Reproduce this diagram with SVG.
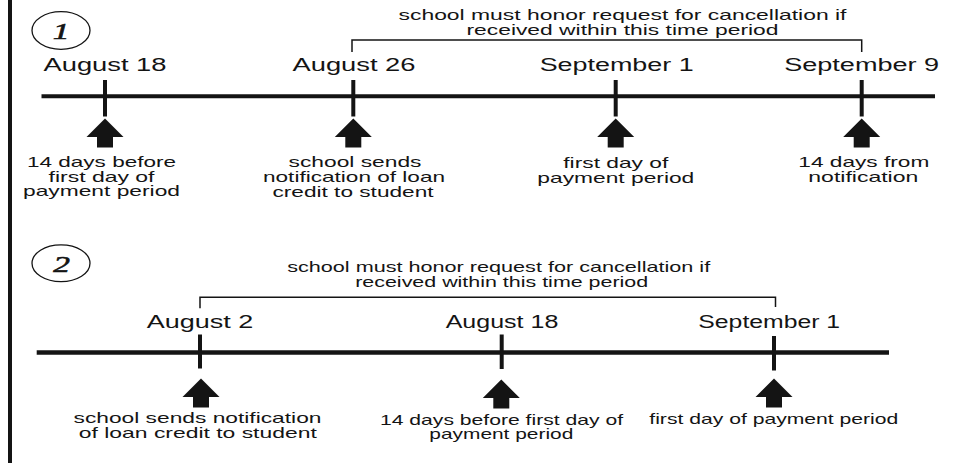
<svg xmlns="http://www.w3.org/2000/svg" xmlns:xlink="http://www.w3.org/1999/xlink" width="967" height="463" viewBox="0 0 967 463">
<style>
text{font-family:"Liberation Sans",Arial,Helvetica,sans-serif;fill:#141414;text-anchor:middle}
.l{font-size:14.5px}
.d{font-size:18px}
.n{font-family:"Liberation Serif","Times New Roman",serif;font-style:italic;font-size:23px;stroke:#141414;stroke-width:0.6}
.axis{stroke:#141414;stroke-width:4;fill:none}
.tick{stroke:#141414;stroke-width:4}
.br{fill:none;stroke:#141414;stroke-width:1.5}
.ell{fill:none;stroke:#141414;stroke-width:1.3}
.arr{fill:#141414}
</style>
<defs>
<path id="arrow" d="M0,0 L18.5,18.5 L8,18.5 L8,29 L-8,29 L-8,18.5 L-18.5,18.5 Z"/>
</defs>
<rect x="8" y="0" width="4" height="463" fill="#141414"/>

<!-- Timeline 1 -->
<g id="timeline1">
<ellipse class="ell" cx="61" cy="30.5" rx="29" ry="18.8"/>
<text class="n" transform="translate(61,39.3) scale(1.45,1)">1</text>
<line class="axis" x1="41.5" y1="96.3" x2="935" y2="96.3"/>
</g>
<g id="t1-aug18">
<text class="d" x="105" y="71" textLength="123" lengthAdjust="spacingAndGlyphs">August 18</text>
<line class="tick" x1="105" y1="80" x2="105" y2="116.5"/>
<use href="#arrow" class="arr" transform="translate(105,118.5)"/>
<text class="l" x="101.5" y="166.5" textLength="149" lengthAdjust="spacingAndGlyphs">14 days before</text>
<text class="l" x="101.5" y="181.5" textLength="106" lengthAdjust="spacingAndGlyphs">first day of</text>
<text class="l" x="101.5" y="196" textLength="157" lengthAdjust="spacingAndGlyphs">payment period</text>
</g>
<g id="t1-aug26">
<text class="d" x="354" y="71" textLength="123" lengthAdjust="spacingAndGlyphs">August 26</text>
<line class="tick" x1="353.3" y1="80" x2="353.3" y2="116.5"/>
<use href="#arrow" class="arr" transform="translate(353.3,118.5)"/>
<text class="l" x="355" y="166.7" textLength="133" lengthAdjust="spacingAndGlyphs">school sends</text>
<text class="l" x="354" y="181.7" textLength="182" lengthAdjust="spacingAndGlyphs">notification of loan</text>
<text class="l" x="353" y="196.7" textLength="161" lengthAdjust="spacingAndGlyphs">credit to student</text>
</g>
<g id="t1-sep1">
<text class="d" x="616.7" y="71" textLength="154" lengthAdjust="spacingAndGlyphs">September 1</text>
<line class="tick" x1="615.7" y1="80" x2="615.7" y2="116.5"/>
<use href="#arrow" class="arr" transform="translate(615.7,118.5)"/>
<text class="l" x="615.8" y="168" textLength="105" lengthAdjust="spacingAndGlyphs">first day of</text>
<text class="l" x="615.8" y="183" textLength="157" lengthAdjust="spacingAndGlyphs">payment period</text>
</g>
<g id="t1-sep9">
<text class="d" x="861.7" y="71" textLength="155" lengthAdjust="spacingAndGlyphs">September 9</text>
<line class="tick" x1="861.7" y1="80" x2="861.7" y2="116.5"/>
<use href="#arrow" class="arr" transform="translate(861.7,118.5)"/>
<text class="l" x="863.8" y="166.7" textLength="131" lengthAdjust="spacingAndGlyphs">14 days from</text>
<text class="l" x="863.3" y="181.7" textLength="110" lengthAdjust="spacingAndGlyphs">notification</text>
</g>
<g id="t1-period">
<text class="l" x="622.5" y="19.5" textLength="448" lengthAdjust="spacingAndGlyphs">school must honor request for cancellation if</text>
<text class="l" x="622.5" y="35" textLength="312" lengthAdjust="spacingAndGlyphs">received within this time period</text>
</g>

<!-- Timeline 2 -->
<g id="timeline2">
<ellipse class="ell" cx="61" cy="263.3" rx="29" ry="18.4"/>
<text class="n" transform="translate(61.5,271.7) scale(1.45,1)">2</text>
<line class="axis" x1="36.7" y1="352.5" x2="889" y2="352.5" style="stroke-width:4.5"/>
</g>
<g id="t2-aug2">
<text class="d" x="200" y="327.5" textLength="106.6" lengthAdjust="spacingAndGlyphs">August 2</text>
<line class="tick" x1="200" y1="334.5" x2="200" y2="368.5"/>
<use href="#arrow" class="arr" transform="translate(201,378.5)"/>
<text class="l" x="197.5" y="422.8" textLength="248" lengthAdjust="spacingAndGlyphs">school sends notification</text>
<text class="l" x="197.8" y="437.6" textLength="238" lengthAdjust="spacingAndGlyphs">of loan credit to student</text>
</g>
<g id="t2-aug18">
<text class="d" x="502" y="328" textLength="112.6" lengthAdjust="spacingAndGlyphs">August 18</text>
<line class="tick" x1="501.7" y1="334.5" x2="501.7" y2="369"/>
<use href="#arrow" class="arr" transform="translate(501.3,379.5)"/>
<text class="l" x="501.5" y="425" textLength="243" lengthAdjust="spacingAndGlyphs">14 days before first day of</text>
<text class="l" x="501.3" y="439.3" textLength="144" lengthAdjust="spacingAndGlyphs">payment period</text>
</g>
<g id="t2-sep1">
<text class="d" x="769.2" y="328" textLength="141.7" lengthAdjust="spacingAndGlyphs">September 1</text>
<line class="tick" x1="774" y1="336" x2="774" y2="370.5"/>
<use href="#arrow" class="arr" transform="translate(774,378.5)"/>
<text class="l" x="773.8" y="424.3" textLength="249" lengthAdjust="spacingAndGlyphs">first day of payment period</text>
</g>
<g id="t2-period">
<text class="l" x="498.7" y="271.7" textLength="423" lengthAdjust="spacingAndGlyphs">school must honor request for cancellation if</text>
<text class="l" x="501.7" y="286.7" textLength="293" lengthAdjust="spacingAndGlyphs">received within this time period</text>
</g>

<g id="connectors">
<path class="br" d="M352,52 V40 H861.7 V52"/>
<path class="br" d="M200,308.3 V297.3 H775.5 V307"/>
</g>
</svg>
